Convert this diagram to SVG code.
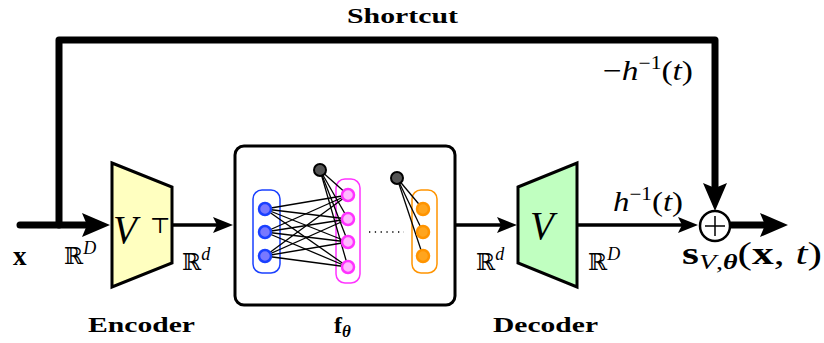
<svg xmlns="http://www.w3.org/2000/svg" width="824" height="343" viewBox="0 0 824 343">
<style>
.t{font-family:"Liberation Serif","DejaVu Serif",serif;fill:#000}
.b{font-weight:bold}
.i{font-style:italic}
.bb{font-family:"DejaVu Serif",serif;fill:#000}
.thick{fill:none;stroke:#000;stroke-width:7;stroke-linejoin:round;stroke-linecap:round}
.thin{fill:none;stroke:#000;stroke-width:3.5}
.nn{stroke:#000;stroke-width:1.3}
.blue{fill:#7878ff;stroke:#1a40ff;stroke-width:2.5}
.pink{fill:#ffb8ff;stroke:#ff33ff;stroke-width:2.5}
.orng{fill:#ffa51e;stroke:#ff9400;stroke-width:2.5}
.bias{fill:#555;stroke:#000;stroke-width:2}
</style>
<defs>
<path id="ah" d="M0,0 L-28,-12 L-23,0 L-28,12 Z" fill="#000"/>
<path id="ahs" d="M0,0 L-20,-8 L-16,0 L-20,8 Z" fill="#000"/>
</defs>

<g id="connectors">
<path class="thick" d="M20,225 H86"/>
<use href="#ah" x="110" y="225"/>
<path class="thick" d="M59,225 V40 H715 V188"/>
<use href="#ah" transform="translate(715,211) rotate(90)"/>
<path class="thin" d="M172,225 H218"/>
<use href="#ahs" x="233" y="225"/>
<path class="thin" d="M455,225 H502"/>
<use href="#ahs" x="517" y="225"/>
<path class="thin" d="M577,225 H682"/>
<use href="#ahs" x="698" y="225"/>
<path class="thick" d="M731,225 H765"/>
<use href="#ah" x="788" y="225"/>
</g>

<g id="shortcut-label">
<text class="t b" x="347" y="23" font-size="22" textLength="111" lengthAdjust="spacingAndGlyphs">Shortcut</text>
<text class="t" x="603" y="80" font-size="28" textLength="90" lengthAdjust="spacingAndGlyphs">−<tspan class="i">h</tspan><tspan font-size="18" dy="-11">−1</tspan><tspan dy="11">(</tspan><tspan class="i">t</tspan>)</text>
</g>

<g id="input">
<text class="t b" x="13" y="265" font-size="27">x</text>
<text x="64" y="264" font-size="23"><tspan class="bb">ℝ</tspan><tspan class="t i" font-size="18" dy="-10">D</tspan></text>
</g>

<g id="encoder">
<path d="M112,163 L172,187 L172,263 L112,287 Z" fill="#ffffc0" stroke="#000" stroke-width="3"/>
<text class="t i" x="113" y="243" font-size="39">V</text>
<text class="bb" x="150" y="233" font-size="22">⊤</text>
<text x="182" y="270" font-size="23"><tspan class="bb">ℝ</tspan><tspan class="t i" font-size="18" dy="-10">d</tspan></text>
<text class="t b" x="88" y="332" font-size="22" textLength="107" lengthAdjust="spacingAndGlyphs">Encoder</text>
</g>

<g id="network">
<rect x="235" y="146" width="220" height="159" rx="9" fill="#fff" stroke="#000" stroke-width="3"/>
<rect x="253" y="190" width="27" height="83" rx="9" fill="none" stroke="#1a40ff" stroke-width="1.5"/>
<rect x="336" y="179" width="24" height="104" rx="9" fill="none" stroke="#ff33ff" stroke-width="1.5"/>
<rect x="412" y="190" width="25" height="83" rx="9" fill="none" stroke="#ff9400" stroke-width="1.5"/>
<g class="nn">
<line x1="265" y1="209" x2="348" y2="195"/><line x1="265" y1="209" x2="348" y2="219"/><line x1="265" y1="209" x2="348" y2="242"/><line x1="265" y1="209" x2="348" y2="267"/>
<line x1="265" y1="232" x2="348" y2="195"/><line x1="265" y1="232" x2="348" y2="219"/><line x1="265" y1="232" x2="348" y2="242"/><line x1="265" y1="232" x2="348" y2="267"/>
<line x1="265" y1="256" x2="348" y2="195"/><line x1="265" y1="256" x2="348" y2="219"/><line x1="265" y1="256" x2="348" y2="242"/><line x1="265" y1="256" x2="348" y2="267"/>
<line x1="320" y1="170" x2="348" y2="195"/><line x1="320" y1="170" x2="348" y2="219"/><line x1="320" y1="170" x2="348" y2="242"/><line x1="320" y1="170" x2="348" y2="267"/>
<line x1="397" y1="178" x2="423" y2="209"/><line x1="397" y1="178" x2="423" y2="232"/><line x1="397" y1="178" x2="423" y2="256"/>
</g>
<circle class="blue" cx="265" cy="209" r="6"/><circle class="blue" cx="265" cy="232" r="6"/><circle class="blue" cx="265" cy="256" r="6"/>
<circle class="pink" cx="348" cy="195" r="6"/><circle class="pink" cx="348" cy="219" r="6"/><circle class="pink" cx="348" cy="242" r="6"/><circle class="pink" cx="348" cy="267" r="6"/>
<circle class="orng" cx="423" cy="209" r="6"/><circle class="orng" cx="423" cy="232" r="6"/><circle class="orng" cx="423" cy="256" r="6"/>
<circle class="bias" cx="320" cy="170" r="6"/><circle class="bias" cx="397" cy="178" r="6"/>
<line x1="369" y1="232" x2="404" y2="232" stroke="#000" stroke-width="1.3" stroke-dasharray="1.3 4.5"/>
<text class="t b" x="334" y="333" font-size="24">f<tspan class="i" font-size="17" dy="4">θ</tspan></text>
</g>

<g id="decoder">
<path d="M518,187 L577,163 L577,287 L518,263 Z" fill="#c0ffc0" stroke="#000" stroke-width="3"/>
<text class="t i" x="530" y="239" font-size="39">V</text>
<text x="476" y="270" font-size="23"><tspan class="bb">ℝ</tspan><tspan class="t i" font-size="18" dy="-10">d</tspan></text>
<text x="588" y="270" font-size="23"><tspan class="bb">ℝ</tspan><tspan class="t i" font-size="18" dy="-10">D</tspan></text>
<text class="t" x="613" y="211" font-size="28" textLength="70" lengthAdjust="spacingAndGlyphs"><tspan class="i">h</tspan><tspan font-size="18" dy="-11">−1</tspan><tspan dy="11">(</tspan><tspan class="i">t</tspan>)</text>
<text class="t b" x="493" y="332" font-size="22" textLength="105" lengthAdjust="spacingAndGlyphs">Decoder</text>
</g>

<g id="sum">
<circle cx="715" cy="226" r="15" fill="#fff" stroke="#000" stroke-width="2.5"/>
<path d="M705,226 H725 M715,216 V236" stroke="#000" stroke-width="1.5"/>
<text class="t" x="682" y="264" font-size="31" textLength="140" lengthAdjust="spacingAndGlyphs"><tspan class="b">s</tspan><tspan class="i" font-size="20" dy="5">V</tspan><tspan font-size="20">,</tspan><tspan class="b i" font-size="20">θ</tspan><tspan dy="-5">(</tspan><tspan class="b">x</tspan>, <tspan class="i">t</tspan>)</text>
</g>
</svg>
